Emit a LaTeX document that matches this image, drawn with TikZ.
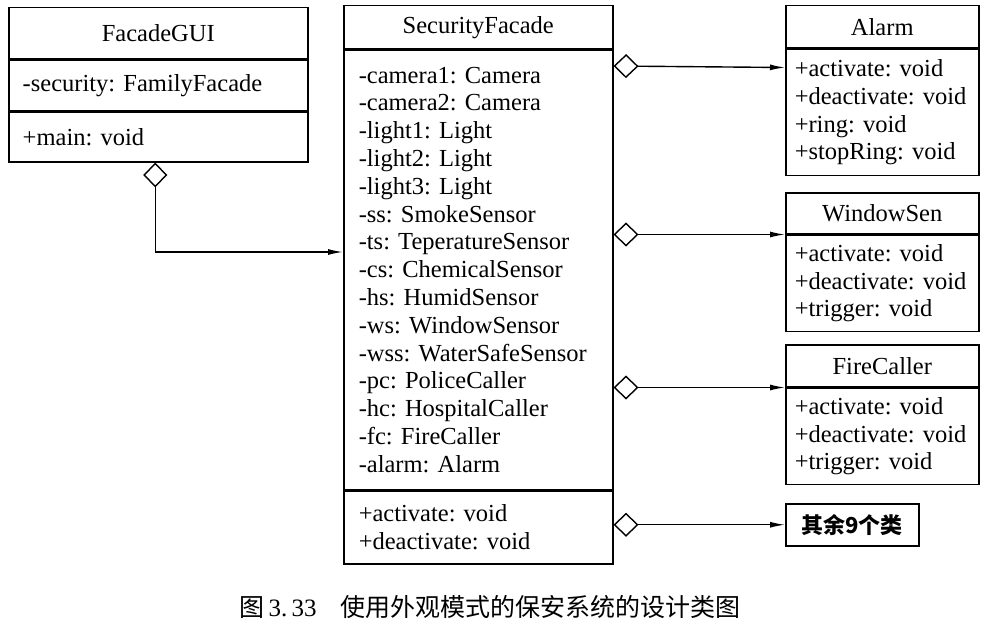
\documentclass[tikz,border=0pt]{standalone}
\usepackage{fontspec}
\setmainfont{Liberation Serif}
\newfontfamily\cjk{Noto Sans CJK SC}
\usetikzlibrary{positioning,arrows.meta}
\frenchspacing

\tikzset{
  classname/.style={draw, line width=1.5pt, inner sep=0pt, anchor=north west,
    font=\fontsize{24.5}{27.8}\selectfont},
  classbody/.style={draw, line width=1.5pt, inner ysep=0pt, align=left,
    font=\fontsize{24.5}{27.8}\selectfont},
  aggr/.style={line width=1.4pt,
    {Diamond[open,length=25pt,width=24pt]}-{Latex[length=15pt,width=6pt]}},
}

\begin{document}
\begin{tikzpicture}[x=1pt,y=1pt]
    \useasboundingbox (0,0) rectangle (983,-626);

    % FacadeGUI
    % ---------------------
    \node[classname, minimum width=299pt, minimum height=51pt] (gui-name) at (8,-7) {FacadeGUI};
    \node[classbody, inner xsep=14pt, text width=271pt, minimum height=50pt, below=0pt of gui-name] (gui-attr) {-security: FamilyFacade};
    \node[classbody, inner xsep=14pt, text width=271pt, minimum height=50pt, below=0pt of gui-attr] (gui-ops) {+main: void};

    % SecurityFacade
    % ---------------------
    \node[classname, minimum width=269pt, minimum height=43pt] (sf-name) at (343,-5) {SecurityFacade};
    \node[classbody, inner xsep=15pt, text width=239pt, minimum height=439pt, below=0pt of sf-name] (sf-attr) {%
      -camera1: Camera\\ -camera2: Camera\\ -light1: Light\\ -light2: Light\\ -light3: Light\\
      -ss: SmokeSensor\\ -ts: TeperatureSensor\\ -cs: ChemicalSensor\\ -hs: HumidSensor\\
      -ws: WindowSensor\\ -wss: WaterSafeSensor\\ -pc: PoliceCaller\\ -hc: HospitalCaller\\
      -fc: FireCaller\\ -alarm: Alarm};
    \node[classbody, inner xsep=15pt, text width=239pt, minimum height=73pt, below=0pt of sf-attr] (sf-ops) {+activate: void\\ +deactivate: void};

    % Alarm, WindowSen, FireCaller
    % ---------------------
    \node[classname, minimum width=193pt, minimum height=42pt] (alarm-name) at (785,-5) {Alarm};
    \node[classbody, inner xsep=9pt, text width=175pt, minimum height=126pt, below=0pt of alarm-name] (alarm-ops) {+activate: void\\ +deactivate: void\\ +ring: void\\ +stopRing: void};

    \node[classname, minimum width=193pt, minimum height=41pt] (win-name) at (785,-192) {WindowSen};
    \node[classbody, inner xsep=9pt, text width=175pt, minimum height=96pt, below=0pt of win-name] (win-ops) {+activate: void\\ +deactivate: void\\ +trigger: void};

    \node[classname, minimum width=193pt, minimum height=42pt] (fire-name) at (785,-344) {FireCaller};
    \node[classbody, inner xsep=9pt, text width=175pt, minimum height=96pt, below=0pt of fire-name] (fire-ops) {+activate: void\\ +deactivate: void\\ +trigger: void};

    \node[classname, minimum width=133pt, minimum height=42pt, font=\cjk\bfseries\fontsize{22}{24}\selectfont] (others) at (785,-503) {其余9个类};

    % aggregations
    % ---------------------
    \coordinate (sf-in) at (sf-attr.west |- 0,-252);
    \draw[aggr] ([xshift=-3pt]gui-ops.south) |- (sf-in);
    \draw[aggr] (sf-attr.east |- 0,-66) -- ([yshift=-19pt]alarm-ops.north west);
    \draw[aggr] (sf-attr.east |- win-ops.north) -- (win-ops.north west);
    \draw[aggr] (sf-attr.east |- fire-ops.north) -- (fire-ops.north west);
    \draw[aggr] (sf-ops.east |- others.west) -- (others.west);

    \node[font=\fontsize{25}{28}\selectfont] (caption) at (490,-607) {{\cjk 图}\,3.\,33\hspace{24pt}{\cjk 使用外观模式的保安系统的设计类图}};
\end{tikzpicture}
\end{document}
